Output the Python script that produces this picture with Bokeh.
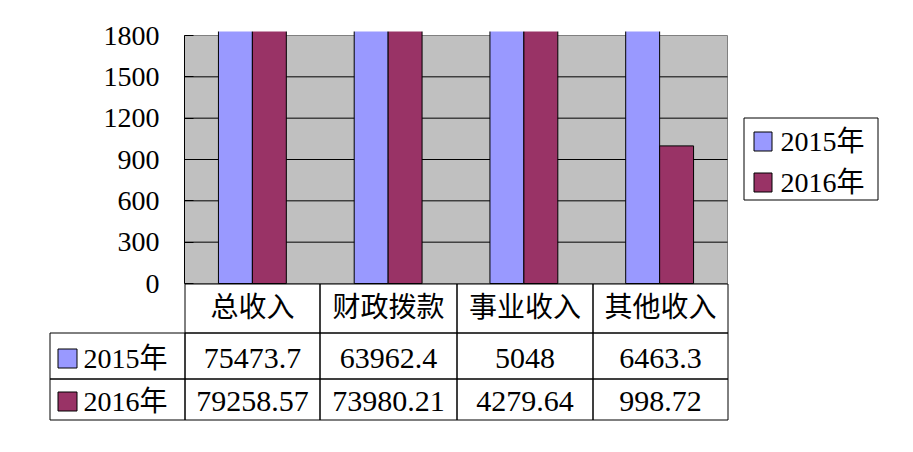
import numpy as np
from bokeh.plotting import figure
from bokeh.models import Range1d, FixedTicker, BoxAnnotation, Label, ColumnDataSource
from bokeh.embed import file_html
from bokeh.resources import INLINE

# ---- data -------------------------------------------------------------
categories = ["总收入", "财政拨款", "事业收入", "其他收入"]
series = ["2015年", "2016年"]
values_2015 = [75473.7, 63962.4, 5048, 6463.3]
values_2016 = [79258.57, 73980.21, 4279.64, 998.72]
y_ticks = [0, 300, 600, 900, 1200, 1500, 1800]
colors = ["#9999FF", "#993366"]

# ---- layout (pixels on the page) ---------------------------------------
W, H = 913, 452
LEFT, RIGHT = 184, 727          # plot area, horizontally
AXIS_TOP, BOTTOM = 35, 283      # y = 1800 and y = 0
BAR_CLIP = 31                   # bars run slightly past the top of the axis
AXIS_MAX = y_ticks[-1]

FONT = "Liberation Serif, Noto Sans CJK SC"
FSIZE = "28px"
n = len(categories)

# pixel position on the page -> data coordinates
def dx(px):
    return (px - LEFT) * n / (RIGHT - LEFT)

def dy(py):
    return (BOTTOM - py) * AXIS_MAX / (BOTTOM - AXIS_TOP)

p = figure(width=W, height=H, x_range=Range1d(dx(0), dx(W)),
           y_range=Range1d(dy(H), dy(0)),
           output_backend="svg", toolbar_location=None,
           x_axis_location=None, y_axis_location="left", min_border=0)
p.title.visible = False
p.outline_line_color = None
p.background_fill_color = "white"
p.border_fill_color = "white"
p.xgrid.visible = False
p.ygrid.visible = False

# grey plot area with its border
p.add_layout(BoxAnnotation(left=0, right=n, bottom=0, top=AXIS_MAX,
                           fill_color="#C0C0C0", fill_alpha=1,
                           line_color="#808080", line_alpha=1, line_width=1,
                           level="image"))

# horizontal gridlines inside the plot area
grid = y_ticks[1:-1]
p.segment(x0=[0] * len(grid), x1=[n] * len(grid), y0=grid, y1=grid,
          line_color="black", line_width=1, level="underlay")

# value axis drawn at the left edge of the plot area
ax = p.yaxis[0]
ax.fixed_location = 0
ax.ticker = FixedTicker(ticks=y_ticks)
ax.bounds = (0, AXIS_MAX)
ax.axis_line_color = "black"
ax.major_tick_in = 9
ax.major_tick_out = 0
ax.minor_tick_line_color = None
ax.major_tick_line_color = "black"
ax.major_label_text_font = "Liberation Serif"
ax.major_label_text_font_size = FSIZE
ax.major_label_text_color = "black"
ax.major_label_standoff = 25

# ---- bars ---------------------------------------------------------------
centers = np.arange(n) + 0.5
bw = 0.25
src = ColumnDataSource(dict(x15=centers - bw / 2, x16=centers + bw / 2,
                            v15=values_2015, v16=values_2016))
p.vbar(x="x15", top="v15", width=bw, source=src, fill_color=colors[0],
       line_color="black", line_width=1)
p.vbar(x="x16", top="v16", width=bw, source=src, fill_color=colors[1],
       line_color="black", line_width=1)

# tall bars are cut off just above the top of the axis
p.quad(left=[dx(LEFT - 1)], right=[dx(RIGHT + 1)], bottom=[dy(BAR_CLIP)], top=[dy(-20)],
       fill_color="white", line_color=None, level="overlay")

# ---- data table under the plot -----------------------------------------
col_edges = [49.5, 184.5, 319.5, 456.5, 592.5, 727.5]
head_top, head_bot = 283.5, 332.5
row_edges = [332.5, 378.5, 419.5]

def cell(l, r, t, b, fill=None):
    p.add_layout(BoxAnnotation(left=dx(l), right=dx(r), top=dy(t), bottom=dy(b),
                               fill_color=fill or "white", fill_alpha=1 if fill else 0,
                               line_color="black", line_alpha=1, line_width=1,
                               level="overlay"))

def text(px, py, s, align="center", size=FSIZE):
    p.add_layout(Label(x=dx(px), y=dy(py), text=s, text_font=FONT,
                       text_font_size=size, text_color="black",
                       text_align=align, text_baseline="middle", level="overlay"))

for j, cat in enumerate(categories):
    l, r = col_edges[j + 1], col_edges[j + 2]
    cell(l, r, head_top, head_bot)
    text((l + r) / 2, (head_top + head_bot) / 2 - 1, cat)

rows = [values_2015, values_2016]
for i, (name, vals) in enumerate(zip(series, rows)):
    t, b = row_edges[i], row_edges[i + 1]
    cy = (t + b) / 2 + 2
    for j in range(len(col_edges) - 1):
        cell(col_edges[j], col_edges[j + 1], t, b)
    cell(57.5, 76.5, round(cy) - 9.5, round(cy) + 9.5, fill=colors[i])
    text(83, cy, name, align="left")
    for j, v in enumerate(vals):
        l, r = col_edges[j + 1], col_edges[j + 2]
        text((l + r) / 2, cy, str(v), size="30px")

# ---- legend ---------------------------------------------------------------
cell(743.5, 877.5, 117.5, 199.5, fill="white")
for i, name in enumerate(series):
    cy = 140.5 + 41 * i
    cell(753.5, 771.5, cy - 9, cy + 10, fill=colors[i])
    text(780, cy, name, align="left")

open("out.html", "w").write(file_html(p, INLINE))
